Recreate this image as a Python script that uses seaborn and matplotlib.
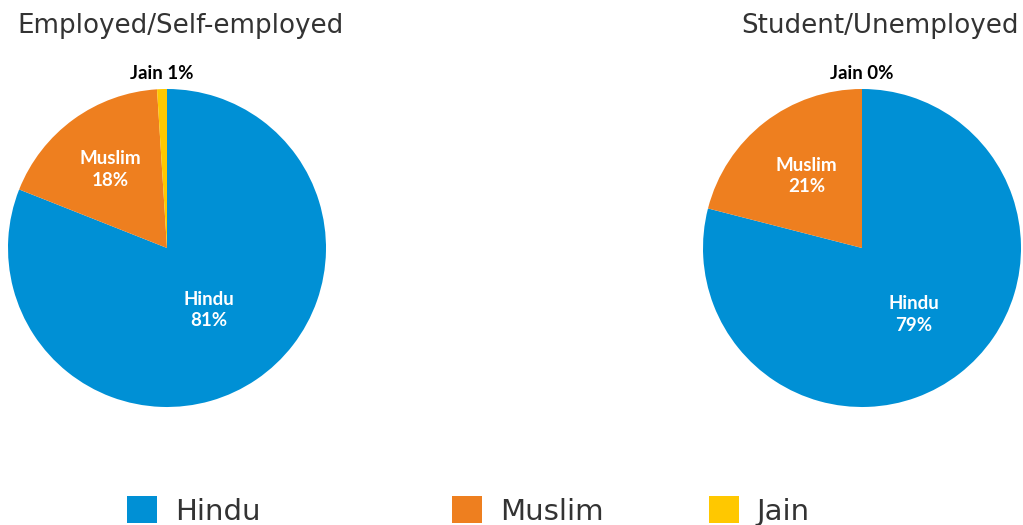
import numpy as np
import matplotlib
matplotlib.use("Agg")
import matplotlib.pyplot as plt
import seaborn as sns
from matplotlib.patches import Patch

categories = ["Hindu", "Muslim", "Jain"]
employed = [81, 18, 1]
student = [79, 21, 0]
titles = ["Employed/Self-employed", "Student/Unemployed"]
colors = ["#0090D5", "#EE7F1F", "#FFC800"]

sns.set_theme(style="white")
plt.rcParams['font.family'] = ['DejaVu Sans']

fig = plt.figure(figsize=(10.23, 5.25), dpi=100)

# per-chart label distances (fraction of radius) for inside labels
label_dist = [[0.47, 0.61, 1.1], [0.53, 0.57, 1.1]]
label_colors = ["white", "white", "black"]

ax_pos = [[8/1023, 118/525, 318/1023, 318/525],
          [703/1023, 118/525, 318/1023, 318/525]]
title_x = [180/1023, 880/1023]

for i, vals in enumerate([employed, student]):
    ax = fig.add_axes(ax_pos[i])
    wedges, _ = ax.pie(vals, colors=colors, startangle=90, counterclock=False,
                       radius=1, wedgeprops=dict(linewidth=0))
    ax.set_xlim(-1, 1)
    ax.set_ylim(-1, 1)
    ax.set_aspect("equal")
    ax.axis("off")
    for j, w in enumerate(wedges):
        ang = np.deg2rad((w.theta1 + w.theta2) / 2)
        d = label_dist[i][j]
        x, y = d * np.cos(ang), d * np.sin(ang)
        if categories[j] == "Jain":
            txt = f"{categories[j]} {vals[j]}%"
        else:
            txt = f"{categories[j]}\n{vals[j]}%"
        ax.text(x, y, txt, ha="center", va="center", color=label_colors[j],
                fontsize=13.5, fontweight="bold", family=["Lato", "DejaVu Sans"],
                linespacing=1.3)
    fig.text(title_x[i], 1 - 26/525, titles[i], ha="center", va="center",
             fontsize=18.8, color="#333333")

# legend items
leg_x = [115/1023, 440/1023, 697/1023]
for j, cat in enumerate(categories):
    h = Patch(facecolor=colors[j], edgecolor="none")
    fig.legend([h], [cat], loc="center left", bbox_to_anchor=(leg_x[j], 1 - 511/525),
               frameon=False, fontsize=21, handlelength=1.05, handleheight=1.05,
               handletextpad=0.6, borderaxespad=0, labelcolor="#333333")

fig.savefig("out.png", dpi=100)
